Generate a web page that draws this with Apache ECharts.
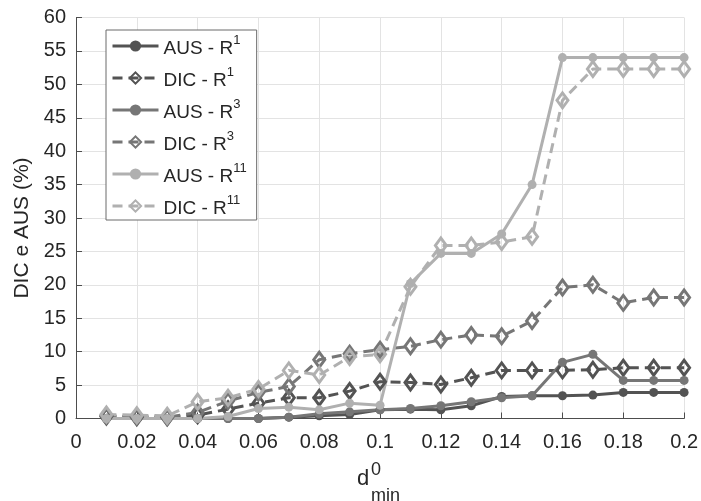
<!DOCTYPE html>
<html>
<head>
<meta charset="utf-8">
<script src="https://cdn.jsdelivr.net/npm/echarts@6/dist/echarts.min.js"></script>
<style>
  html, body { margin: 0; padding: 0; background: #fff; }
  #chart { width: 701px; height: 501px; }
</style>
</head>
<body>
<div id="chart"></div>
<script>
// d0_min values on the horizontal axis
const dMin = [0.01, 0.02, 0.03, 0.04, 0.05, 0.06, 0.07, 0.08, 0.09, 0.10,
              0.11, 0.12, 0.13, 0.14, 0.15, 0.16, 0.17, 0.18, 0.19, 0.20];

// percentages per series
const ausR1  = [0, 0, 0, 0, 0, 0, 0.2, 0.4, 0.6, 1.3, 1.4, 1.3, 1.9, 3.3, 3.4, 3.4, 3.5, 3.9, 3.9, 3.9];
const dicR1  = [0.3, 0.2, 0.2, 0.5, 1.4, 2.3, 3.1, 3.1, 4.1, 5.5, 5.4, 5.1, 6.1, 7.2, 7.2, 7.2, 7.3, 7.6, 7.6, 7.6];
const ausR3  = [0, 0, 0, 0, 0, 0, 0.2, 0.7, 1.0, 1.3, 1.5, 1.9, 2.5, 3.1, 3.4, 8.4, 9.6, 5.7, 5.7, 5.7];
const dicR3  = [0.4, 0.3, 0.2, 0.9, 2.6, 3.9, 4.8, 8.8, 9.7, 10.3, 10.8, 11.8, 12.5, 12.3, 14.6, 19.6, 20.0, 17.3, 18.1, 18.1];
const ausR11 = [0, 0, 0, 0, 0.3, 1.5, 1.7, 1.3, 2.3, 2.0, 20.2, 24.7, 24.7, 27.6, 35.0, 54.0, 54.0, 54.0, 54.0, 54.0];
const dicR11 = [0.6, 0.5, 0.4, 2.5, 3.1, 4.4, 7.2, 6.5, 9.2, 9.6, 19.7, 25.9, 25.9, 26.4, 27.2, 47.6, 52.3, 52.3, 52.3, 52.3];

// legend names and their superscripts
const seriesNames = ['AUS - R1', 'DIC - R1', 'AUS - R3', 'DIC - R3', 'AUS - R11', 'DIC - R11'];
const nameParts = {
  'AUS - R1':  ['AUS - R', '1'],
  'DIC - R1':  ['DIC - R', '1'],
  'AUS - R3':  ['AUS - R', '3'],
  'DIC - R3':  ['DIC - R', '3'],
  'AUS - R11': ['AUS - R', '11'],
  'DIC - R11': ['DIC - R', '11']
};

const FONT = '"Liberation Sans", Arial, Helvetica, sans-serif';
const C1 = '#535353', C3 = '#767676', C11 = '#b0b0b0';

function pairs(vals) { return dMin.map((x, i) => [x, vals[i]]); }

function ausSeries(name, vals, color) {
  return {
    name, type: 'line', data: pairs(vals),
    symbol: 'circle', symbolSize: 9, showSymbol: true,
    lineStyle: { color, width: 3, type: 'solid' },
    itemStyle: { color, borderColor: color, borderWidth: 0 },
    emphasis: { disabled: true }
  };
}
function dicSeries(name, vals, color) {
  return {
    name, type: 'line', data: pairs(vals),
    symbol: 'diamond', symbolSize: [11, 15], showSymbol: true,
    lineStyle: { color, width: 3, type: [10, 6] },
    itemStyle: { color: 'rgba(255,255,255,0)', borderColor: color, borderWidth: 3 },
    emphasis: { disabled: true }
  };
}

const chart = echarts.init(document.getElementById('chart'), null, { renderer: 'canvas' });
chart.setOption({
  animation: false,
  backgroundColor: '#ffffff',
  grid: { left: 76, right: 16, top: 17.5, bottom: 82.5, containLabel: false },
  xAxis: {
    type: 'value', min: 0, max: 0.2, interval: 0.02,
    axisLine: { show: true, onZero: false, lineStyle: { color: '#4d4d4d', width: 1 } },
    axisTick: { show: true, inside: true, length: 6, lineStyle: { color: '#4d4d4d' } },
    axisLabel: { color: '#262626', fontSize: 20, fontFamily: FONT, margin: 14 },
    splitLine: { show: true, lineStyle: { color: '#e3e3e3', width: 1 } }
  },
  yAxis: {
    type: 'value', min: 0, max: 60, interval: 5,
    name: 'DIC e AUS (%)', nameLocation: 'middle', nameGap: 43, nameRotate: 90,
    nameTextStyle: { color: '#262626', fontSize: 21, fontFamily: FONT, padding: [0, 20, 0, 0] },
    axisLine: { show: true, lineStyle: { color: '#4d4d4d', width: 1 } },
    axisTick: { show: true, inside: true, length: 6, lineStyle: { color: '#4d4d4d' } },
    axisLabel: { color: '#262626', fontSize: 20, fontFamily: FONT, margin: 10 },
    splitLine: { show: true, lineStyle: { color: '#e3e3e3', width: 1 } }
  },
  legend: {
    orient: 'vertical', left: 106, top: 30,
    data: seriesNames,
    backgroundColor: '#ffffff', borderColor: '#6b6b6b', borderWidth: 1,
    padding: [4, 10, 2, 5], itemGap: 8, itemWidth: 46, itemHeight: 14,
    selectedMode: false,
    lineStyle: { width: 3 },
    formatter: n => '{t|' + nameParts[n][0] + '}{s|' + nameParts[n][1] + '}',
    textStyle: {
      color: '#262626', fontFamily: FONT,
      rich: {
        // main text sits low in a 24px line, the exponent sits at its top
        t: { fontSize: 19, lineHeight: 19, fontFamily: FONT, color: '#262626', padding: [5, 0, 0, 0] },
        s: { fontSize: 13, lineHeight: 13, fontFamily: FONT, color: '#262626', padding: [0, 0, 11, 0] }
      }
    }
  },
  graphic: [
    { type: 'text', x: 357, y: 479, style: { text: 'd', font: '22px ' + FONT, fill: '#262626', textVerticalAlign: 'middle' } },
    { type: 'text', x: 371, y: 470, style: { text: '0', font: '18px ' + FONT, fill: '#262626', textVerticalAlign: 'middle' } },
    { type: 'text', x: 371, y: 496, style: { text: 'min', font: '18px ' + FONT, fill: '#262626', textVerticalAlign: 'middle' } }
  ],
  series: [
    ausSeries('AUS - R1', ausR1, C1),
    dicSeries('DIC - R1', dicR1, C1),
    ausSeries('AUS - R3', ausR3, C3),
    dicSeries('DIC - R3', dicR3, C3),
    ausSeries('AUS - R11', ausR11, C11),
    dicSeries('DIC - R11', dicR11, C11)
  ]
});
</script>
</body>
</html>
